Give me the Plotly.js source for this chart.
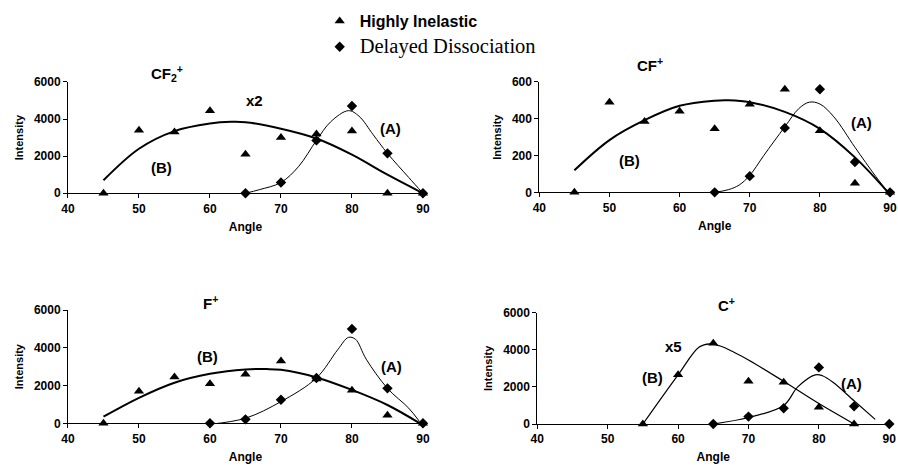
<!DOCTYPE html>
<html><head><meta charset="utf-8">
<script src="https://cdn.plot.ly/plotly-3.0.1.min.js"></script>
<style>html,body{margin:0;padding:0;background:#fff}#chart{width:898px;height:468px}</style>
</head><body><div id="chart"></div>
<script>
// ---- CF2+ panel ----
const cf2HiX = [45,50,55,60,65,70,75,80,85,90];
const cf2HiY = [0,3400,3300,4450,2100,3000,3200,3350,0,0];
const cf2DdX = [65,70,75,80,85,90];
const cf2DdY = [0,580,2850,4700,2150,0];
const cf2BX = [45,50,55,60,63,65,70,75,80,85,90];
const cf2BY = [700,2400,3350,3760,3850,3830,3480,2950,2080,1000,0];
const cf2AX = [65,67,70,72.5,75,77,79.5,81,83,85,88,90];
const cf2AY = [0,200,580,1450,2850,3850,4450,4150,3150,2150,850,0];

// ---- CF+ panel ----
const cfHiX = [45,50,55,60,65,70,75,80,85,90];
const cfHiY = [0,490,385,440,345,478,560,335,50,0];
const cfDdX = [65,70,75,80,85,90];
const cfDdY = [0,88,350,560,165,0];
const cfBX = [45,50,55,60,65,67,70,75,80,85,90];
const cfBY = [120,284,392,470,498,500,490,437,345,190,-12];
const cfAX = [65,67,68.5,70,72,75,77,78.5,80,82,85,88,90];
const cfAY = [0,15,40,92,200,356,455,490,480,410,245,85,-12];

// ---- F+ panel ----
const fHiX = [45,50,55,60,65,70,75,80,85,90];
const fHiY = [0,1700,2450,2100,2600,3300,2350,1750,420,0];
const fDdX = [60,65,70,75,80,85,90];
const fDdY = [0,210,1250,2400,5000,1850,0];
const fBX = [45,50,55,60,65,68,70,75,80,85,90];
const fBY = [350,1350,2150,2620,2850,2870,2830,2430,1770,970,-100];
const fAX = [60,65,70,75,78,79.5,80.5,82,85,88,89.5];
const fAY = [-50,270,1150,2400,3900,4550,4450,3400,1850,800,100];

// ---- C+ panel ----
const cHiX = [55,60,65,70,75,80,85];
const cHiY = [0,2650,4350,2300,2250,900,0];
const cDdX = [65,70,75,80,85,90];
const cDdY = [0,400,850,3050,950,0];
const cBX = [55,60,63,64.5,66,68,70,74.7,80,85];
const cBY = [0,2650,4150,4320,4200,3850,3450,2370,1100,0];
const cAX = [65,70,75,77,79.5,80.5,82,85,88];
const cAY = [0,350,1000,2000,2650,2600,2250,1250,250];

// ---- text ----
const legendNames = ['Highly Inelastic', 'Delayed Dissociation'];
const panelTitles = ['CF<sub>2</sub><sup>+</sup>', 'CF<sup>+</sup>', 'F<sup>+</sup>', 'C<sup>+</sup>'];
const xTitle = 'Angle';
const yTitle = 'Intensity';

const SANS = 'Liberation Sans, Arial, sans-serif';
const SERIF = 'Liberation Serif, Times New Roman, serif';

function hi(x, y, xa, ya, show) {
  return {x: x, y: y, xaxis: xa, yaxis: ya, type: 'scatter', mode: 'markers',
    name: '<b>' + legendNames[0] + '</b>', legendgroup: 'g1', showlegend: show, cliponaxis: false,
    marker: {symbol: 'triangle-up', size: 9, color: '#000'}};
}
function dd(x, y, xa, ya, show) {
  return {x: x, y: y, xaxis: xa, yaxis: ya, type: 'scatter', mode: 'markers',
    name: '<span style="font-family:Liberation Serif;font-size:20.5px">' + legendNames[1] + '</span>',
    legendgroup: 'g2', showlegend: show, cliponaxis: false,
    marker: {symbol: 'diamond', size: 8, color: '#000'}};
}
function curve(x, y, xa, ya, w) {
  return {x: x, y: y, xaxis: xa, yaxis: ya, type: 'scatter', mode: 'lines',
    showlegend: false, hoverinfo: 'skip',
    line: {shape: 'spline', smoothing: 1, color: '#000', width: w}};
}

const data = [
  curve(cf2BX, cf2BY, 'x', 'y', 2), curve(cf2AX, cf2AY, 'x', 'y', 1),
  hi(cf2HiX, cf2HiY, 'x', 'y', true), dd(cf2DdX, cf2DdY, 'x', 'y', true),
  curve(cfBX, cfBY, 'x2', 'y2', 2), curve(cfAX, cfAY, 'x2', 'y2', 1),
  hi(cfHiX, cfHiY, 'x2', 'y2', false), dd(cfDdX, cfDdY, 'x2', 'y2', false),
  curve(fBX, fBY, 'x3', 'y3', 2), curve(fAX, fAY, 'x3', 'y3', 1),
  hi(fHiX, fHiY, 'x3', 'y3', false), dd(fDdX, fDdY, 'x3', 'y3', false),
  curve(cBX, cBY, 'x4', 'y4', 1.2), curve(cAX, cAY, 'x4', 'y4', 1.2),
  hi(cHiX, cHiY, 'x4', 'y4', false), dd(cDdX, cDdY, 'x4', 'y4', false)
];

function xax(dom, anchor) {
  return {domain: dom, anchor: anchor, range: [40, 90], tick0: 40, dtick: 10,
    showline: true, linecolor: '#000', linewidth: 1, ticks: 'outside', ticklen: 4,
    tickcolor: '#000', showgrid: false, zeroline: false, automargin: false,
    tickfont: {family: SANS, size: 12, color: '#000', weight: 'bold'},
    title: {text: xTitle, standoff: 7, font: {family: SANS, size: 12, color: '#000', weight: 'bold'}}};
}
function yax(dom, anchor, max, dt) {
  return {domain: dom, anchor: anchor, range: [0, max], dtick: dt,
    showline: true, linecolor: '#000', linewidth: 1, ticks: 'outside', ticklen: 4,
    tickcolor: '#000', showgrid: false, zeroline: false, automargin: false,
    tickfont: {family: SANS, size: 12, color: '#000', weight: 'bold'},
    title: {text: yTitle, standoff: 8, font: {family: SANS, size: 11, color: '#000', weight: 'bold'}}};
}

function ann(text, x, y, xref, yref, size) {
  return {text: text, x: x, y: y, xref: xref, yref: yref, showarrow: false,
    xanchor: 'center', yanchor: 'middle',
    font: {family: SANS, size: size, color: '#000', weight: 'bold'}};
}

const layout = {
  width: 898, height: 468,
  margin: {l: 0, r: 0, t: 0, b: 0},
  paper_bgcolor: '#fff', plot_bgcolor: '#fff',
  showlegend: true,
  legend: {x: 0.356, xanchor: 'left', y: 1 - 4/468, yanchor: 'top', traceorder: 'grouped',
    tracegroupgap: 2, bgcolor: 'rgba(0,0,0,0)',
    font: {family: SANS, size: 16, color: '#000'}},
  xaxis: xax([0.0757, 0.471], 'y'),
  yaxis: yax([0.587, 0.825], 'x', 6000, 2000),
  xaxis2: xax([0.6006, 0.9911], 'y2'),
  yaxis2: yax([0.589, 0.825], 'x2', 600, 200),
  xaxis3: xax([0.0757, 0.471], 'y3'),
  yaxis3: yax([0.0955, 0.3376], 'x3', 6000, 2000),
  xaxis4: xax([0.5983, 0.9903], 'y4'),
  yaxis4: yax([0.094, 0.332], 'x4', 6000, 2000),
  annotations: [
    ann(panelTitles[0], 167/898, 1 - 73/468, 'paper', 'paper', 15),
    ann(panelTitles[1], 650/898, 1 - 65/468, 'paper', 'paper', 15),
    ann(panelTitles[2], 210/898, 1 - 302/468, 'paper', 'paper', 15),
    ann(panelTitles[3], 726/898, 1 - 304/468, 'paper', 'paper', 15),
    ann('x2', 66.3, 5016, 'x', 'y', 15),
    ann('(B)', 53.2, 1414, 'x', 'y', 15),
    ann('(A)', 85.4, 3510, 'x', 'y', 15),
    ann('(B)', 52.9, 175, 'x2', 'y2', 15),
    ann('(A)', 86.0, 381, 'x2', 'y2', 15),
    ann('(B)', 59.7, 3564, 'x3', 'y3', 15),
    ann('(A)', 85.6, 3034, 'x3', 'y3', 15),
    ann('x5', 59.4, 4151, 'x4', 'y4', 15),
    ann('(B)', 56.4, 2480, 'x4', 'y4', 15),
    ann('(A)', 84.7, 2156, 'x4', 'y4', 15)
  ]
};

Plotly.newPlot('chart', data, layout, {displayModeBar: false, staticPlot: true});
</script></body></html>
